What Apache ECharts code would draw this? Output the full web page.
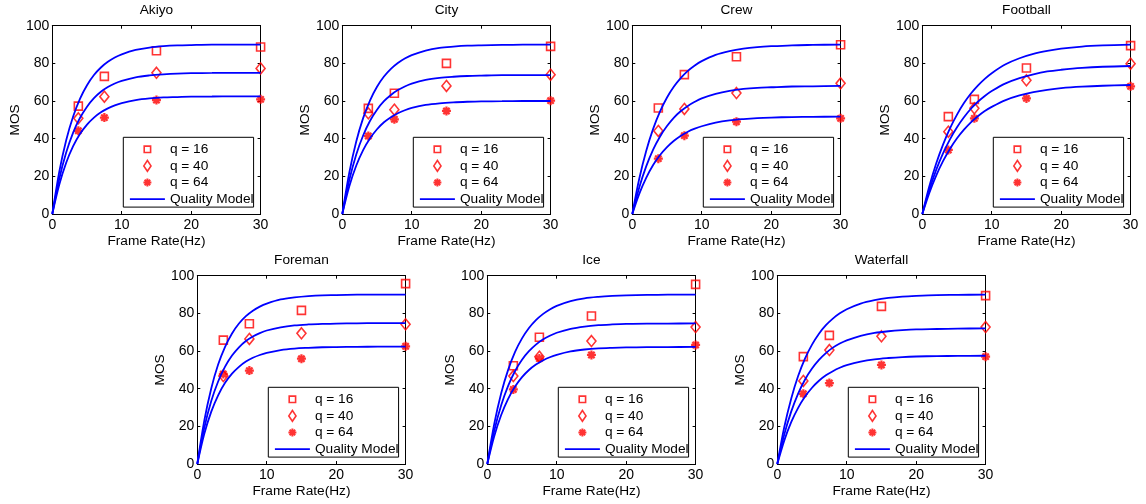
<!DOCTYPE html>
<html>
<head>
<meta charset="utf-8">
<script src="https://cdn.jsdelivr.net/npm/echarts@6/dist/echarts.min.js"></script>
<style>
  html, body { margin: 0; padding: 0; background: #fff; }
  #chart { width: 1146px; height: 504px; }
</style>
</head>
<body>
<div id="chart"></div>
<script>
// ---------------- DATA ----------------
const titles = ['Akiyo', 'City', 'Crew', 'Football', 'Foreman', 'Ice', 'Waterfall'];
const seriesNames = ['q = 16', 'q = 40', 'q = 64', 'Quality Model'];
const xTicks = [0, 10, 20, 30];
const yTicks = [0, 20, 40, 60, 80, 100];
const xAxisName = 'Frame Rate(Hz)';
const yAxisName = 'MOS';

// measured frame rates (markers)
const frameRates = [3.75, 7.5, 15, 30];
// sample positions along the model curves
const curveX = [0, 1, 2, 3, 4, 5, 6, 7, 8, 9, 10, 12, 14, 16, 18, 20, 23, 26, 30];

// measured MOS (markers)
const akiyoQ16 = [57.3, 73.1, 86.7, 88.7];
const akiyoQ40 = [50.8, 62.3, 75.0, 77.3];
const akiyoQ64 = [44.2, 51.2, 60.5, 60.9];
const cityQ16 = [56.1, 64.1, 80.0, 89.0];
const cityQ40 = [53.5, 55.4, 68.0, 74.0];
const cityQ64 = [41.4, 50.3, 54.7, 60.2];
const crewQ16 = [56.3, 74.0, 83.5, 89.9];
const crewQ40 = [44.1, 55.8, 64.2, 69.4];
const crewQ64 = [29.4, 41.6, 49.0, 50.8];
const footballQ16 = [51.7, 60.9, 77.5, 89.4];
const footballQ40 = [43.7, 56.1, 71.0, 79.8];
const footballQ64 = [34.0, 50.8, 61.4, 67.8];
const foremanQ16 = [65.8, 74.5, 81.6, 95.8];
const foremanQ40 = [46.7, 66.4, 69.4, 74.2];
const foremanQ64 = [47.8, 49.6, 55.9, 62.5];
const iceQ16 = [52.2, 67.3, 78.6, 95.4];
const iceQ40 = [46.7, 57.0, 65.3, 72.7];
const iceQ64 = [39.6, 56.0, 57.9, 63.2];
const waterfallQ16 = [57.0, 68.3, 83.7, 89.4];
const waterfallQ40 = [44.1, 60.5, 67.8, 72.7];
const waterfallQ64 = [37.3, 43.0, 52.6, 57.0];

// model curves (values read at curveX)
const akiyoFit16 = [0, 22.4, 39.2, 51.8, 61.3, 68.4, 73.8, 77.8, 80.8, 83.1, 84.8, 87.1, 88.4, 89.1, 89.5, 89.7, 89.9, 89.9, 90];
const akiyoFit40 = [0, 18.6, 32.6, 43.2, 51.1, 57.0, 61.5, 64.9, 67.4, 69.3, 70.7, 72.6, 73.6, 74.2, 74.6, 74.8, 74.9, 75, 75];
const akiyoFit64 = [0, 15.5, 27.2, 36.0, 42.6, 47.5, 51.2, 54.0, 56.1, 57.7, 58.9, 60.5, 61.4, 61.9, 62.1, 62.3, 62.4, 62.5, 62.5];
const cityFit16 = [0, 21.8, 38.4, 50.9, 60.4, 67.6, 73.0, 77.1, 80.2, 82.6, 84.4, 86.8, 88.2, 88.9, 89.4, 89.6, 89.8, 89.9, 90];
const cityFit40 = [0, 17.9, 31.5, 41.7, 49.5, 55.4, 59.9, 63.2, 65.8, 67.7, 69.2, 71.2, 72.3, 72.9, 73.3, 73.5, 73.7, 73.7, 73.8];
const cityFit64 = [0, 14.6, 25.6, 33.9, 40.2, 45.0, 48.7, 51.4, 53.5, 55.1, 56.3, 57.9, 58.8, 59.3, 59.6, 59.8, 59.9, 60, 60];
const crewFit16 = [0, 18.7, 33.5, 45.2, 54.5, 61.9, 67.7, 72.3, 76.0, 78.9, 81.2, 84.5, 86.5, 87.8, 88.6, 89.1, 89.6, 89.8, 90];
const crewFit40 = [0, 14.1, 25.3, 34.2, 41.2, 46.7, 51.2, 54.7, 57.4, 59.6, 61.4, 63.8, 65.4, 66.4, 67.0, 67.3, 67.7, 67.8, 68];
const crewFit64 = [0, 10.7, 19.2, 26.0, 31.3, 35.5, 38.9, 41.6, 43.7, 45.3, 46.6, 48.5, 49.7, 50.4, 50.9, 51.2, 51.5, 51.6, 51.7];
const footballFit16 = [0, 14.6, 26.8, 37.0, 45.6, 52.8, 58.9, 64.0, 68.2, 71.8, 74.8, 79.5, 82.7, 85.0, 86.6, 87.8, 88.9, 89.5, 90];
const footballFit40 = [0, 12.7, 23.4, 32.3, 39.8, 46.1, 51.4, 55.9, 59.6, 62.7, 65.3, 69.4, 72.2, 74.2, 75.7, 76.6, 77.6, 78.2, 78.6];
const footballFit64 = [0, 11.1, 20.4, 28.2, 34.7, 40.2, 44.8, 48.7, 51.9, 54.7, 56.9, 60.5, 63.0, 64.7, 65.9, 66.8, 67.6, 68.1, 68.5];
const foremanFit16 = [0, 22.9, 40.0, 52.8, 62.2, 69.3, 74.6, 78.5, 81.4, 83.6, 85.2, 87.4, 88.5, 89.2, 89.6, 89.7, 89.9, 90, 90];
const foremanFit40 = [0, 19.1, 33.3, 43.8, 51.7, 57.6, 62.0, 65.3, 67.7, 69.5, 70.9, 72.6, 73.6, 74.1, 74.4, 74.6, 74.7, 74.8, 74.8];
const foremanFit64 = [0, 15.9, 27.7, 36.5, 43.1, 48.0, 51.6, 54.4, 56.4, 57.9, 59.0, 60.5, 61.3, 61.7, 62.0, 62.1, 62.2, 62.3, 62.3];
const iceFit16 = [0, 21.3, 37.6, 50.0, 59.5, 66.7, 72.2, 76.4, 79.6, 82.1, 84.0, 86.5, 88.0, 88.8, 89.3, 89.6, 89.8, 89.9, 90];
const iceFit40 = [0, 17.7, 31.2, 41.5, 49.4, 55.4, 59.9, 63.4, 66.1, 68.1, 69.7, 71.8, 73.0, 73.7, 74.1, 74.4, 74.6, 74.6, 74.7];
const iceFit64 = [0, 14.7, 26.0, 34.6, 41.1, 46.1, 49.9, 52.8, 55.0, 56.7, 58.0, 59.8, 60.8, 61.4, 61.7, 61.9, 62.1, 62.1, 62.2];
const waterfallFit16 = [0, 19.5, 34.7, 46.7, 56.1, 63.4, 69.2, 73.7, 77.2, 80.0, 82.2, 85.2, 87.0, 88.2, 88.9, 89.3, 89.7, 89.8, 90];
const waterfallFit40 = [0, 15.6, 27.8, 37.4, 44.9, 50.7, 55.3, 58.9, 61.8, 64.0, 65.7, 68.1, 69.6, 70.5, 71.1, 71.5, 71.7, 71.9, 72];
const waterfallFit64 = [0, 12.4, 22.2, 29.8, 35.8, 40.5, 44.2, 47.1, 49.3, 51.1, 52.5, 54.4, 55.6, 56.3, 56.8, 57.1, 57.3, 57.4, 57.5];

const markerSets = [
  [akiyoQ16, akiyoQ40, akiyoQ64],
  [cityQ16, cityQ40, cityQ64],
  [crewQ16, crewQ40, crewQ64],
  [footballQ16, footballQ40, footballQ64],
  [foremanQ16, foremanQ40, foremanQ64],
  [iceQ16, iceQ40, iceQ64],
  [waterfallQ16, waterfallQ40, waterfallQ64]
];
const fitSets = [
  [akiyoFit16, akiyoFit40, akiyoFit64],
  [cityFit16, cityFit40, cityFit64],
  [crewFit16, crewFit40, crewFit64],
  [footballFit16, footballFit40, footballFit64],
  [foremanFit16, foremanFit40, foremanFit64],
  [iceFit16, iceFit40, iceFit64],
  [waterfallFit16, waterfallFit40, waterfallFit64]
];

// ---------------- LAYOUT / STYLE ----------------
const FONT = '"Liberation Sans", Arial, Helvetica, sans-serif';
const RED = '#ff0000';
const BLUE = '#0000ff';
const W = 208.3, H = 188.3;
const boxes = [
  { l: 52.3, t: 25.7 }, { l: 342.3, t: 25.7 }, { l: 632.3, t: 25.7 }, { l: 922.3, t: 25.7 },
  { l: 197.3, t: 275.7 }, { l: 487.3, t: 275.7 }, { l: 777.3, t: 275.7 }
];
const STAR_BODY = 'M7.5,0L12.5,0L12.5,20L7.5,20Z M0,7.5L20,7.5L20,12.5L0,12.5Z M1.23,4.77L4.77,1.23L18.77,15.23L15.23,18.77Z M15.23,1.23L18.77,4.77L4.77,18.77L1.23,15.23Z';
const STAR = 'path://' + STAR_BODY;
const LEGEND_STAR = 'path://M-5,-5 M25,25 ' + STAR_BODY;
const LEGEND_SQUARE = 'path://M0,0 M12,12 M2.8,2.8L9.2,2.8L9.2,9.2L2.8,9.2Z';
const LEGEND_DIAMOND = 'path://M0,0 M12,12 M6,0.6L9.6,6L6,11.4L2.4,6Z';

const hollowRed = { color: 'rgba(0,0,0,0)', borderColor: RED, borderWidth: 1.6 };
const markerStyles = [
  { symbol: 'rect', symbolSize: 8, itemStyle: hollowRed },
  { symbol: 'diamond', symbolSize: [9, 11], itemStyle: hollowRed },
  { symbol: STAR, symbolSize: 9, itemStyle: { color: RED, borderWidth: 0 } }
];

const xMin = xTicks[0], xMax = xTicks[xTicks.length - 1], xInt = xTicks[1] - xTicks[0];
const yMin = yTicks[0], yMax = yTicks[yTicks.length - 1], yInt = yTicks[1] - yTicks[0];

const axisLine = { show: true, onZero: false, lineStyle: { color: '#000', width: 1 } };
const axisTick = { show: true, inside: true, length: 3, lineStyle: { color: '#000', width: 1 } };

const option = {
  animation: false,
  backgroundColor: '#fff',
  textStyle: { fontFamily: FONT },
  title: [], grid: [], xAxis: [], yAxis: [], legend: [], series: []
};

titles.forEach((name, i) => {
  const b = boxes[i];
  option.grid.push({ left: b.l, top: b.t, width: W, height: H, containLabel: false });
  option.title.push({
    text: name, left: b.l + W / 2, top: b.t - 22, textAlign: 'center', padding: 0,
    textStyle: { fontSize: 13.7, fontWeight: 'normal', color: '#000', fontFamily: FONT }
  });
  option.xAxis.push({
    gridIndex: i, type: 'value', position: 'bottom', min: xMin, max: xMax, interval: xInt,
    axisLine, axisTick, splitLine: { show: false },
    axisLabel: { color: '#000', fontSize: 14, margin: 4, fontFamily: FONT },
    name: xAxisName, nameLocation: 'middle', nameGap: 20,
    nameTextStyle: { color: '#000', fontSize: 13.7, fontFamily: FONT }
  });
  option.xAxis.push({
    gridIndex: i, type: 'value', position: 'top', min: xMin, max: xMax, interval: xInt,
    axisLine, axisTick, splitLine: { show: false }, axisLabel: { show: false }
  });
  option.yAxis.push({
    gridIndex: i, type: 'value', position: 'left', min: yMin, max: yMax, interval: yInt,
    axisLine, axisTick, splitLine: { show: false },
    axisLabel: { color: '#000', fontSize: 14, margin: 3, fontFamily: FONT },
    name: yAxisName, nameLocation: 'middle', nameGap: 30,
    nameTextStyle: { color: '#000', fontSize: 13.7, fontFamily: FONT }
  });
  option.yAxis.push({
    gridIndex: i, type: 'value', position: 'right', min: yMin, max: yMax, interval: yInt,
    axisLine, axisTick, splitLine: { show: false }, axisLabel: { show: false }
  });

  option.legend.push({
    orient: 'vertical', left: b.l + 71, top: b.t + 111.6,
    itemWidth: 35, itemHeight: 12, itemGap: 0.6,
    padding: [4, 0, 0, 5.7],
    backgroundColor: '#fff', borderColor: '#000', borderWidth: 1, borderRadius: 0,
    selectedMode: false,
    textStyle: { fontSize: 13.7, color: '#000', lineHeight: 16, fontFamily: FONT },
    data: [
      { name: seriesNames[0], icon: LEGEND_SQUARE, itemStyle: hollowRed },
      { name: seriesNames[1], icon: LEGEND_DIAMOND, itemStyle: hollowRed },
      { name: seriesNames[2], icon: LEGEND_STAR, itemStyle: { color: RED, borderWidth: 0 } },
      { name: seriesNames[3], itemStyle: { color: 'rgba(0,0,0,0)', borderColor: 'rgba(0,0,0,0)', borderWidth: 0 },
        lineStyle: { color: BLUE, width: 1.8 } }
    ]
  });

  const ax = 2 * i;
  markerSets[i].forEach((vals, k) => {
    option.series.push(Object.assign({
      name: seriesNames[k], type: 'scatter', xAxisIndex: ax, yAxisIndex: ax,
      data: frameRates.map((f, j) => [f, vals[j]]),
      emphasis: { disabled: true }, z: 3
    }, markerStyles[k]));
  });
  fitSets[i].forEach((vals) => {
    option.series.push({
      name: seriesNames[3], type: 'line', xAxisIndex: ax, yAxisIndex: ax,
      data: curveX.map((x, j) => [x, vals[j]]),
      symbol: 'none', smooth: 0.33,
      lineStyle: { color: BLUE, width: 1.8 }, itemStyle: { color: BLUE },
      emphasis: { disabled: true }, z: 4
    });
  });
});

const chart = echarts.init(document.getElementById('chart'), null, { renderer: 'canvas' });
chart.setOption(option);
</script>
</body>
</html>
